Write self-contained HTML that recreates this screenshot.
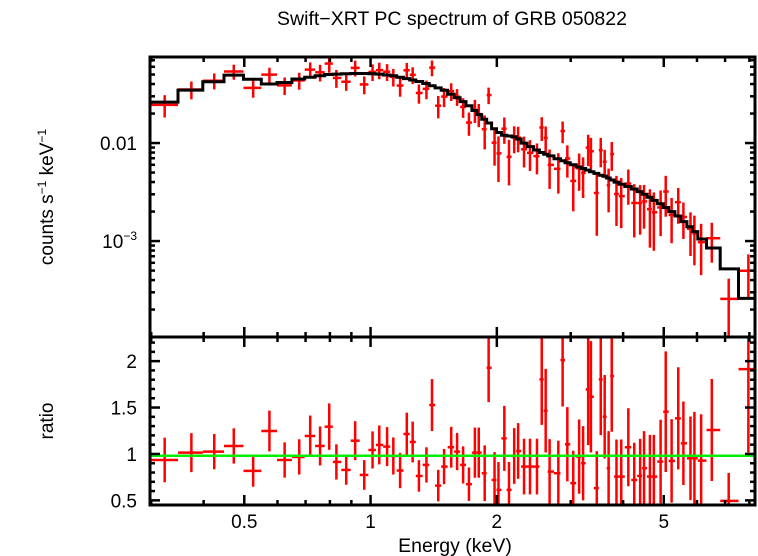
<!DOCTYPE html>
<html><head><meta charset="utf-8"><style>
html,body{margin:0;padding:0;background:#fff;}
svg{display:block;font-family:"Liberation Sans",sans-serif;}
</style></head><body>
<svg id="chart" width="758" height="556" viewBox="0 0 758 556" xmlns="http://www.w3.org/2000/svg">
<defs>
<clipPath id="clipTop"><rect x="150" y="57" width="605" height="280"/></clipPath>
<clipPath id="clipBot"><rect x="150" y="337" width="605" height="168"/></clipPath>
</defs>
<text x="452" y="25" font-size="19.5" text-anchor="middle">Swift−XRT PC spectrum of GRB 050822</text>
<text transform="translate(53,197) rotate(-90)" font-size="19" text-anchor="middle">counts s<tspan font-size="12" dy="-7">−1</tspan><tspan dy="7"> keV</tspan><tspan font-size="12" dy="-7">−1</tspan></text>
<text transform="translate(53,421) rotate(-90)" font-size="19" text-anchor="middle">ratio</text>
<text x="455" y="552" font-size="19.5" text-anchor="middle">Energy (keV)</text>
<g id="gTop" clip-path="url(#clipTop)"></g>
<g id="gBot" clip-path="url(#clipBot)"></g>
<g id="gAxes"></g>
</svg>
<script>
const energies=[0.323,0.374,0.424,0.472,0.525,0.574,0.624,0.676,0.718,0.758,0.797,0.829,0.875,0.919,0.966,1.011,1.049,1.095,1.133,1.176,1.220,1.260,1.304,1.359,1.401,1.450,1.497,1.557,1.608,1.662,1.716,1.773,1.811,1.871,1.912,1.975,2.018,2.084,2.138,2.200,2.248,2.322,2.399,2.493,2.559,2.615,2.672,2.803,2.870,2.945,3.042,3.142,3.211,3.302,3.352,3.462,3.538,3.615,3.694,3.758,3.857,3.959,4.116,4.252,4.392,4.487,4.634,4.735,4.914,5.054,5.220,5.414,5.569,5.790,5.916,6.138,6.508,7.141,7.955];
const ratios=[0.935,1.014,1.025,1.086,0.817,1.247,0.935,0.968,1.194,1.086,1.294,0.914,0.828,1.143,0.774,1.043,1.097,1.079,0.978,0.821,1.215,1.129,0.763,0.882,1.527,0.659,0.864,1.072,1.025,0.882,0.674,1.014,1.014,0.792,1.928,0.720,0.613,1.168,0.613,0.978,1.032,0.864,0.864,0.864,1.803,1.466,0.810,0.792,2.011,1.104,0.685,0.971,0.900,1.695,1.616,0.631,1.803,1.401,0.846,1.839,0.756,0.756,1.072,0.720,0.763,0.846,0.756,0.756,0.918,1.455,0.925,1.384,1.115,0.953,0.953,0.928,1.258,0.495,1.914];
const ratioErrs=[0.24,0.21,0.19,0.19,0.17,0.22,0.19,0.19,0.22,0.21,0.25,0.19,0.16,0.21,0.16,0.2,0.21,0.21,0.2,0.19,0.23,0.22,0.17,0.19,0.28,0.17,0.19,0.22,0.2,0.2,0.18,0.27,0.27,0.3,0.37,0.3,0.3,0.35,0.3,0.3,0.3,0.3,0.3,0.3,0.49,0.45,0.35,0.35,0.5,0.4,0.35,0.4,0.4,0.6,0.6,0.4,0.6,0.45,0.4,0.6,0.4,0.4,0.42,0.4,0.4,0.4,0.45,0.45,0.45,0.65,0.45,0.55,0.45,0.45,0.5,0.5,0.55,0.3,0.9];
const model=[0.0262,0.0347,0.0422,0.0494,0.0448,0.0400,0.0415,0.0450,0.0470,0.0485,0.0500,0.0505,0.0510,0.0512,0.0512,0.0510,0.0505,0.0495,0.0485,0.0470,0.0455,0.0440,0.0425,0.0405,0.0385,0.0365,0.0345,0.0315,0.0290,0.0265,0.0240,0.0215,0.0195,0.0175,0.0160,0.0140,0.0128,0.0120,0.0118,0.0116,0.0110,0.0100,0.0092,0.0085,0.0080,0.0077,0.0074,0.0069,0.0066,0.0063,0.0060,0.0057,0.0055,0.0053,0.0051,0.0049,0.0047,0.0046,0.0044,0.0042,0.0040,0.0038,0.0036,0.0034,0.0032,0.0030,0.0028,0.0026,0.0024,0.0022,0.0020,0.0018,0.00158,0.00140,0.00125,0.00105,0.00085,0.00052,0.00026];
const xTickLabels=[0.5,1,2,5];
const ratioTickLabels=[0.5,1,1.5,2];
const modelRatio=0.98;

const NS="http://www.w3.org/2000/svg";
const X0=150,X1=755,E0=0.298,E1=8.25;
const TY0=57,TY1=337,C0=Math.log10(1.05e-4),C1=Math.log10(0.0755);
const BY0=337,BY1=505,R0=0.45,R1=2.26;
const xs=e=>X0+(Math.log10(e)-Math.log10(E0))/(Math.log10(E1)-Math.log10(E0))*(X1-X0);
const yt=c=>TY1-(Math.log10(c)-C0)/(C1-C0)*(TY1-TY0);
const yb=r=>BY1-(r-R0)/(R1-R0)*(BY1-BY0);
function mk(tag,attrs,parent){const el=document.createElementNS(NS,tag);for(const k in attrs)el.setAttribute(k,attrs[k]);parent.appendChild(el);return el;}
const gTop=document.getElementById('gTop'),gBot=document.getElementById('gBot'),gAx=document.getElementById('gAxes');
const n=energies.length;
const lo=[],hi=[];
for(let i=0;i<n;i++){
  lo.push(i===0?E0:Math.sqrt(energies[i-1]*energies[i]));
  hi.push(i===n-1?E1:Math.sqrt(energies[i]*energies[i+1]));
}
let d='';
for(let i=0;i<n;i++){const y=yt(model[i]);d+=(i===0?'M':'L')+xs(lo[i]).toFixed(1)+','+y.toFixed(1)+'L'+xs(hi[i]).toFixed(1)+','+y.toFixed(1);}
for(let i=0;i<n;i++){
  const c=model[i]*ratios[i],ce=model[i]*ratioErrs[i];
  const g=mk('g',{},gTop);
  
  
  const x=xs(energies[i]),y=yt(c);
  mk('line',{x1:xs(lo[i]),x2:xs(hi[i]),y1:y,y2:y,stroke:'#ff0000','stroke-width':2.5},g);
  const lowV=Math.max(c-ce,1e-6);
  mk('line',{x1:x,x2:x,y1:yt(c+ce),y2:yt(lowV),stroke:'#ff0000','stroke-width':2.5},g);
  const g2=mk('g',{},gBot);
  
  
  const yr=yb(ratios[i]);
  mk('line',{x1:xs(lo[i]),x2:xs(hi[i]),y1:yr,y2:yr,stroke:'#ff0000','stroke-width':2.5},g2);
  mk('line',{x1:x,x2:x,y1:yb(ratios[i]+ratioErrs[i]),y2:yb(ratios[i]-ratioErrs[i]),stroke:'#ff0000','stroke-width':2.5},g2);
}
const mp=mk('path',{d:d,fill:'none',stroke:'#000','stroke-width':3},gTop);


const gl=mk('line',{x1:X0,x2:X1,y1:yb(modelRatio),y2:yb(modelRatio),stroke:'#00ee00','stroke-width':2.5},gBot);



const f1=mk('rect',{x:X0,y:TY0,width:X1-X0,height:TY1-TY0,fill:'none',stroke:'#000','stroke-width':3},gAx);


const f2=mk('rect',{x:X0,y:BY0,width:X1-X0,height:BY1-BY0,fill:'none',stroke:'#000','stroke-width':3},gAx);


function tick(x1,y1,x2,y2){mk('line',{x1,y1,x2,y2,stroke:'#000','stroke-width':2.5},gAx);}
const minorE=[0.3,0.4,0.6,0.7,0.8,0.9,3,4,6,7,8];
for(const e of minorE){const x=xs(e);tick(x,TY0,x,TY0+5);tick(x,TY1,x,TY1-5);tick(x,TY1,x,TY1+5);tick(x,BY1,x,BY1-5);}
for(const e of xTickLabels){const x=xs(e);tick(x,TY0,x,TY0+10);tick(x,TY1-10,x,TY1+10);tick(x,BY1,x,BY1-10);
  const t=mk('text',{x:x,y:528,'font-size':19,'text-anchor':'middle'},gAx);t.textContent=String(e);
  
  }
for(let p=-4;p<=-1;p++){for(let m=1;m<10;m++){const v=m*Math.pow(10,p);if(v<1.05e-4||v>0.0755)continue;const y=yt(v);const L=m===1?10:5;tick(X0,y,X0+L,y);tick(X1,y,X1-L,y);}}
const t1=mk('text',{x:137,y:yt(0.01)+7,'font-size':19,'text-anchor':'end'},gAx);t1.textContent='0.01';


const t2=mk('text',{x:137,y:yt(0.001)+7,'font-size':19,'text-anchor':'end'},gAx);t2.innerHTML='10<tspan font-size="12" dy="-8">−3</tspan>';


for(let k=5;k<=22;k++){const r=k/10;const y=yb(r);const L=(k%5===0)?10:5;tick(X0,y,X0+L,y);tick(X1,y,X1-L,y);}
for(const r of ratioTickLabels){const t=mk('text',{x:137,y:yb(r)+7,'font-size':19,'text-anchor':'end'},gAx);t.textContent=String(r);
  
  }
</script>
</body></html>
